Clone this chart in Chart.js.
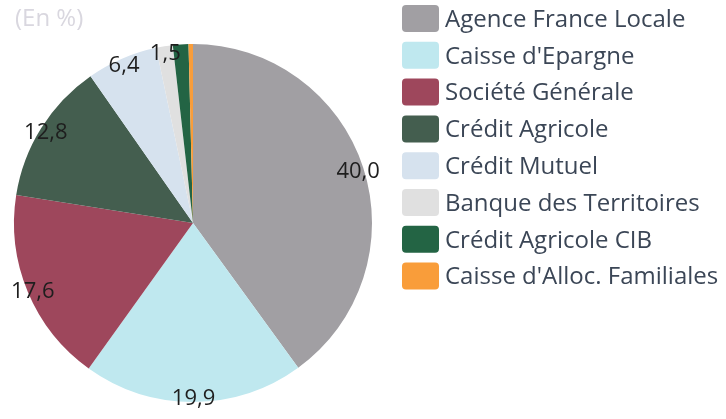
<!DOCTYPE html>
<html lang="fr">
<head>
    <meta charset="UTF-8">
    <title>Répartition (En %)</title>
    <script src="https://cdn.jsdelivr.net/npm/chart.js"></script>
    <style>
        body {
            margin: 0;
            background: #ffffff;
        }
        .wrap {
            position: relative;
            width: 726px;
            height: 419px;
        }
    </style>
</head>
<body>
    <div class="wrap">
        <canvas id="pieChart" width="726" height="419"></canvas>
    </div>

    <script>
        // Data
        const categories = [
            'Agence France Locale',
            'Caisse d\'Epargne',
            'Société Générale',
            'Crédit Agricole',
            'Crédit Mutuel',
            'Banque des Territoires',
            'Crédit Agricole CIB',
            'Caisse d\'Alloc. Familiales'
        ];
        const shares = [40.0, 19.9, 17.6, 12.8, 6.4, 1.5, 1.4, 0.4];
        const shownLabels = ['40,0', '19,9', '17,6', '12,8', '6,4', '1,5', '', ''];
        const sliceColors = ['#a19fa3', '#bfe8ef', '#9e475c', '#445e4f', '#d6e2ee', '#e0e0e0', '#236444', '#f99d3a'];

        const font = '"Open Sans", "Noto Sans", sans-serif';

        // Value labels sitting on the rim of each slice
        const rimLabels = {
            id: 'rimLabels',
            afterDatasetsDraw(chart) {
                const ctx = chart.ctx;
                const arcs = chart.getDatasetMeta(0).data;
                ctx.save();
                ctx.font = '22px ' + font;
                ctx.fillStyle = '#1e1e1e';
                ctx.textAlign = 'center';
                ctx.textBaseline = 'middle';
                arcs.forEach((arc, i) => {
                    if (!shownLabels[i]) return;
                    const mid = (arc.startAngle + arc.endAngle) / 2;
                    const r = arc.outerRadius * 0.97;
                    ctx.fillText(shownLabels[i], arc.x + Math.cos(mid) * r, arc.y + Math.sin(mid) * r + 2);
                });
                ctx.restore();
            }
        };

        // Legend on the right and the "(En %)" note
        const sideLegend = {
            id: 'sideLegend',
            afterDraw(chart) {
                const ctx = chart.ctx;
                ctx.save();
                ctx.font = '24px ' + font;
                ctx.fillStyle = '#d9d7df';
                ctx.textBaseline = 'middle';
                ctx.fillText('(En %)', 15, 19);

                categories.forEach((name, i) => {
                    const y = 5 + i * 36.8;
                    ctx.fillStyle = sliceColors[i];
                    ctx.beginPath();
                    ctx.roundRect(402, y, 37, 27, 4);
                    ctx.fill();
                    ctx.fillStyle = '#3b4656';
                    ctx.fillText(name, 445, y + 15);
                });
                ctx.restore();
            }
        };

        new Chart(document.getElementById('pieChart'), {
            type: 'pie',
            data: {
                labels: categories,
                datasets: [{
                    data: shares,
                    backgroundColor: sliceColors,
                    borderWidth: 0
                }]
            },
            options: {
                responsive: false,
                animation: false,
                layout: {
                    padding: { left: 14, top: 44, right: 354, bottom: 17 }
                },
                plugins: {
                    legend: { display: false },
                    tooltip: { enabled: false }
                }
            },
            plugins: [rimLabels, sideLegend]
        });
    </script>
</body>
</html>
